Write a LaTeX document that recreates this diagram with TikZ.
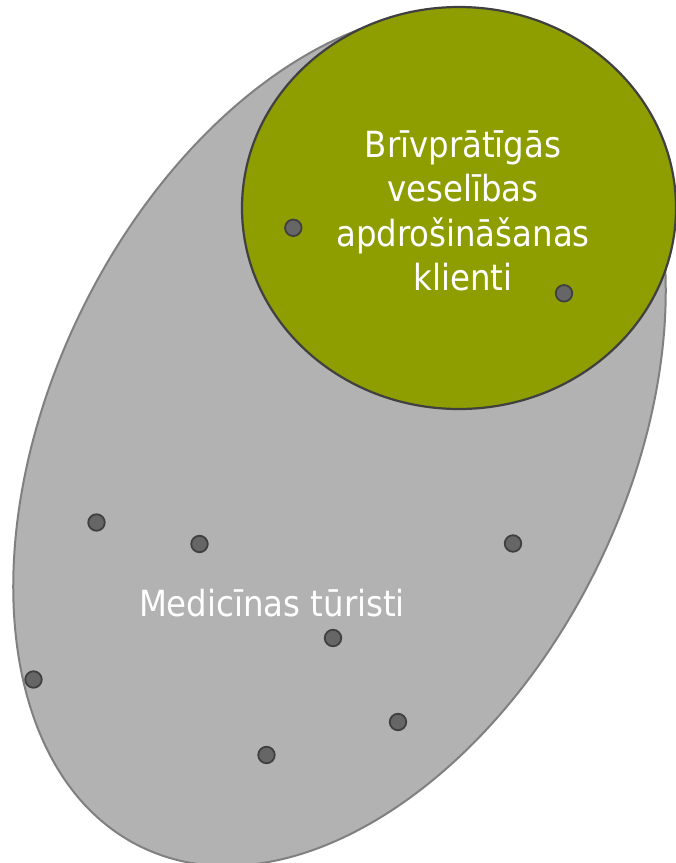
\documentclass[tikz,border=0pt]{standalone}
\usepackage{fontspec}
\setmainfont{DejaVu Sans Condensed}
\definecolor{grayfill}{RGB}{178,178,178}
\definecolor{grayline}{RGB}{128,128,128}
\definecolor{olivefill}{RGB}{142,158,0}
\definecolor{darkline}{RGB}{64,64,64}
\definecolor{dotfill}{RGB}{102,102,102}
\tikzset{
  grayset/.style={fill=grayfill, draw=grayline, line width=2pt},
  greenset/.style={fill=olivefill, draw=darkline, line width=2.2pt},
  dot/.style={circle, fill=dotfill, draw=darkline, line width=1.8pt, minimum size=16.5pt, inner sep=0pt},
  lbl/.style={text=white, font=\fontsize{36}{44.5}\selectfont, align=center, inner sep=0pt}
}
\begin{document}
\begin{tikzpicture}[x=1pt,y=-1pt]
\useasboundingbox (0,0) rectangle (676,863);
\draw[grayset, rotate around={-25.9:(339.5,438.5)}] (339.5,438.5) ellipse [x radius=288, y radius=454];
\node[dot] (d1) at (96.5,522.5) {};
\node[dot] (d2) at (199.5,544) {};
\node[dot] (d3) at (513,543.5) {};
\node[dot] (d4) at (333,638) {};
\node[dot] (d5) at (33.5,679.5) {};
\node[dot] (d6) at (398,722) {};
\node[dot] (d7) at (266.5,755) {};
\draw[greenset] (459,208) ellipse [x radius=217, y radius=201];
\node[dot] (g1) at (293.3,227.8) {};
\node[dot] (g2) at (564,293.3) {};
\node[lbl] (vol) at (463,211) {Brīvprātīgās\\veselības\\apdrošināšanas\\klienti};
\node[lbl] (med) at (272,603) {Medicīnas tūristi};
\end{tikzpicture}
\end{document}
